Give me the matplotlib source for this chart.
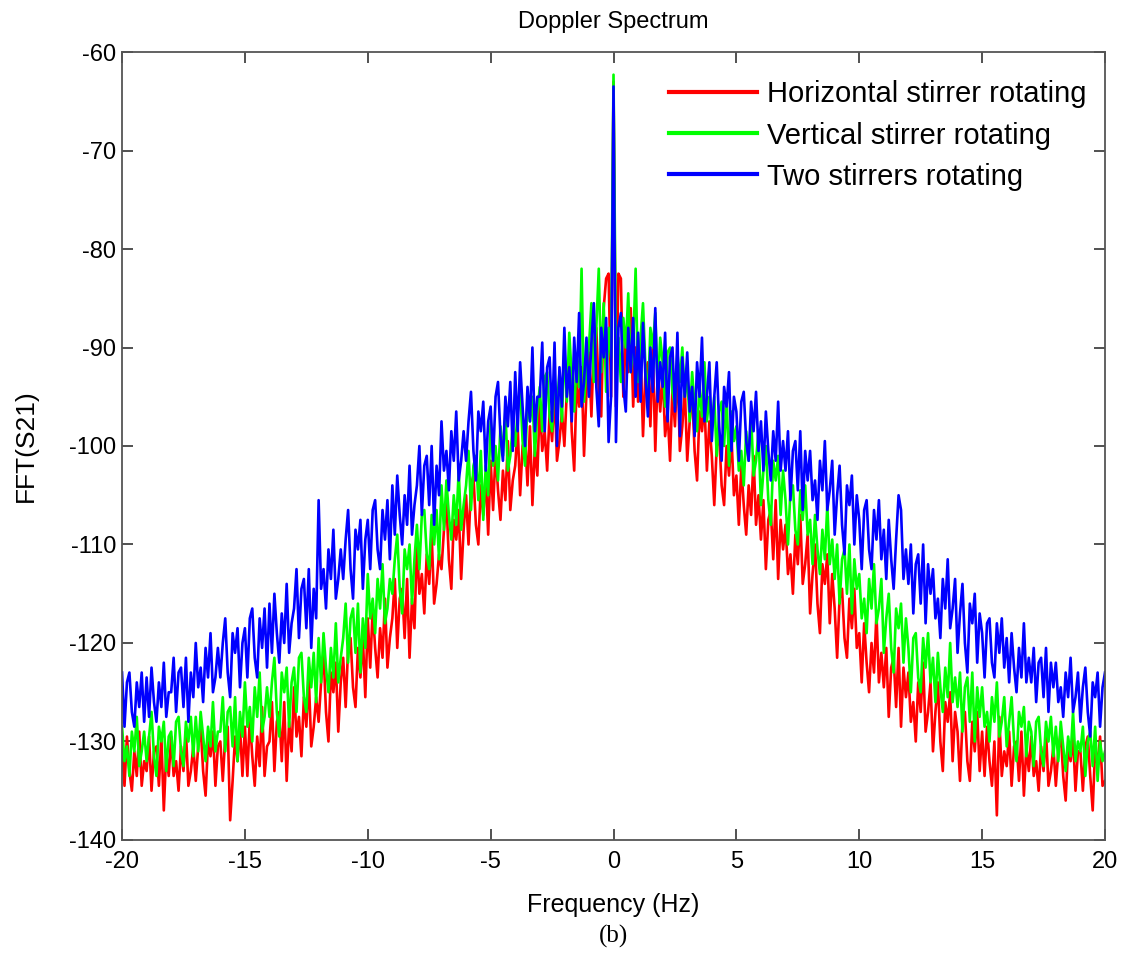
import numpy as np
import matplotlib
matplotlib.use('Agg')
import matplotlib.pyplot as plt

# Doppler spectrum on a 0.1 Hz grid (dB), one row per Hz
freq = np.linspace(-20, 20, 401)

horizontal = [
    -130.5, -134.5, -129.5, -133, -135, -131, -133.5, -129, -134.5, -132,
    -133, -129.5, -135, -131, -130.5, -134.5, -129.5, -137, -131, -133.5,
    -129.5, -133.5, -132, -135, -130.5, -133, -129, -134.5, -133, -130.5,
    -134, -130.5, -128.5, -133, -135.5, -130, -131.5, -129, -134.5, -130.5,
    -130, -134, -129.5, -128.5, -138, -134, -129.5, -132, -128.5, -133.5,
    -128.5, -133.5, -127.5, -131.5, -134.5, -129.5, -132.5, -126.5, -133.5, -130.5,
    -130, -126, -133, -128, -127, -132, -126, -134, -128, -131,
    -124.5, -129.5, -127.5, -131.5, -125.5, -128.5, -123.5, -130.5, -128.5, -125.5,
    -128, -124, -121, -127, -130, -123, -125, -122, -129, -124,
    -121.5, -126.5, -120.5, -119.5, -124.5, -126.5, -120.5, -123.5, -119.5, -125.5,
    -117.5, -122.5, -116.5, -120.5, -123.5, -118.5, -121.5, -115.5, -122.5, -119.5,
    -117.5, -113.5, -120.5, -115.5, -114.5, -119.5, -113.5, -121.5, -115.5, -118.5,
    -110, -115, -113, -117, -111, -114, -109, -116, -114, -111,
    -112.5, -108.5, -105.5, -111.5, -114.5, -107.5, -109.5, -106.5, -113.5, -108.5,
    -105, -110, -104, -103, -108, -110, -104, -107, -103, -109,
    -101.5, -106.5, -100.5, -104.5, -107.5, -102.5, -105.5, -99.5, -106.5, -103.5,
    -102, -98, -105, -100, -99, -104, -98, -106, -100, -103,
    -95.5, -100.5, -98.5, -102.5, -96.5, -99.5, -94.5, -101.5, -99.5, -96.5,
    -100, -94.5, -91, -98.5, -102.5, -93.5, -96, -92, -101, -94.5,
    -90.5, -97, -89.5, -88, -94.5, -97, -86, -83, -82.5, -95,
    -63, -96, -82.5, -83, -95, -89, -92.5, -86, -96, -90,
    -95.5, -90, -99, -92.5, -91.5, -98, -90, -100.5, -92.5, -96.5,
    -92.5, -99, -96.5, -101.5, -94, -98, -91.5, -100.5, -98, -94,
    -101.5, -97.5, -94.5, -100.5, -103.5, -96.5, -98.5, -95.5, -102.5, -97.5,
    -101, -106, -100, -99, -104, -106, -100, -103, -99, -105,
    -103, -108, -102, -106, -109, -104, -107, -101, -108, -105,
    -109.5, -105.5, -112.5, -107.5, -106.5, -111.5, -105.5, -113.5, -107.5, -110.5,
    -108, -113, -111, -115, -109, -112, -107, -114, -112, -109,
    -117, -113, -110, -116, -119, -112, -114, -111, -118, -113,
    -116.5, -121.5, -115.5, -114.5, -119.5, -121.5, -115.5, -118.5, -114.5, -120.5,
    -119, -124, -118, -122, -125, -120, -123, -117, -124, -121,
    -124.5, -120.5, -127.5, -122.5, -121.5, -126.5, -120.5, -128.5, -122.5, -125.5,
    -123, -128, -126, -130, -124, -127, -122, -129, -127, -124,
    -131, -127, -124, -130, -133, -126, -128, -125, -132, -127,
    -129, -134, -128, -127, -132, -134, -128, -131, -127, -133,
    -129, -133.5, -128.5, -132, -134.5, -130, -137.5, -127.5, -133.5, -131,
    -132.5, -129, -134.5, -130.5, -130, -134, -129, -135.5, -130.5, -133,
    -129.5, -133.5, -132, -135, -130.5, -133, -129, -134.5, -133, -130.5,
    -134.5, -131, -129, -133.5, -136, -130.5, -132, -129.5, -135, -131,
    -131, -135, -130.5, -129.5, -133.5, -137, -130.5, -132.5, -129.5, -134.5,
    -134,
]

vertical = [
    -128.5, -132, -130.5, -133.5, -129, -131, -127.5, -132.5, -131, -129,
    -132, -129.5, -127, -131.5, -133.5, -128.5, -130, -128, -133, -129.5,
    -129, -132.5, -128, -127.5, -131, -132.5, -128, -130, -127.5, -131.5,
    -127.5, -131, -127, -129.5, -132, -128.5, -130.5, -126, -131, -129,
    -129, -125.5, -131, -127, -126.5, -130.5, -125.5, -132, -127, -129.5,
    -124, -128.5, -126.5, -130, -124.5, -127.5, -123, -129, -127.5, -124.5,
    -127.5, -124, -121.5, -127, -129.5, -123, -125, -122.5, -128.5, -124,
    -122.5, -127, -121.5, -121, -125.5, -127, -121.5, -124.5, -121, -126,
    -119.5, -124, -119, -122.5, -125, -120.5, -123.5, -118, -124, -121.5,
    -119.5, -116, -122, -117.5, -116.5, -121, -116, -123, -117.5, -120.5,
    -113, -117.5, -115.5, -119, -113.5, -116.5, -112, -118, -116.5, -113.5,
    -115, -111.5, -109, -114.5, -117, -110.5, -112.5, -110, -116, -111.5,
    -108, -112.5, -107, -106.5, -111, -112.5, -107, -110, -106.5, -111.5,
    -104, -108.5, -103.5, -107, -109.5, -105, -108, -102.5, -108.5, -106,
    -104, -100.5, -106.5, -102, -101, -105.5, -100.5, -107.5, -102, -105,
    -97.5, -102, -100, -103.5, -98, -101, -96.5, -102.5, -101, -98,
    -100, -96.5, -94, -99.5, -102, -95.5, -97.5, -95, -101, -96.5,
    -94, -98.5, -93, -92.5, -97, -98.5, -93, -96, -92.5, -97.5,
    -90, -95.5, -88.5, -93, -96.5, -91, -94, -82, -95.5, -92,
    -90, -85.5, -93.5, -88, -82, -92.5, -85.5, -94.5, -88, -91,
    -62.3, -91, -89, -93.5, -87, -90, -84.5, -92.5, -90, -82,
    -93.5, -89, -85.5, -92, -95.5, -88, -90, -86.5, -94.5, -89,
    -91.5, -96, -90.5, -90, -94.5, -96, -90.5, -93.5, -90, -95,
    -93, -97.5, -92.5, -96, -98.5, -94, -97, -91.5, -97.5, -95,
    -98.5, -95, -101, -96.5, -95.5, -100, -95, -102, -96.5, -99.5,
    -98, -102.5, -100.5, -104, -98.5, -101.5, -97, -103, -101.5, -98.5,
    -106, -102.5, -100, -105.5, -108, -101.5, -103.5, -101, -107, -102.5,
    -105.5, -110, -104.5, -104, -108.5, -110, -104.5, -107.5, -104, -109,
    -107.5, -112, -107, -110.5, -113, -108.5, -111.5, -106, -112, -109.5,
    -113.5, -110, -116, -111.5, -110.5, -115, -110, -117, -111.5, -114.5,
    -113, -117.5, -115.5, -119, -113.5, -116.5, -112, -118, -116.5, -113.5,
    -121, -117.5, -115, -120.5, -123, -116.5, -118.5, -116, -122, -117.5,
    -120.5, -125, -119.5, -119, -123.5, -125, -119.5, -122.5, -119, -124,
    -121.5, -126, -121, -124.5, -127, -122.5, -125.5, -120, -126, -123.5,
    -126.5, -123, -129, -124.5, -123.5, -128, -123, -130, -124.5, -127.5,
    -124.5, -128.5, -127, -130, -125.5, -128, -124, -129.5, -128, -125.5,
    -130.5, -128, -125.5, -130, -132, -127, -128.5, -126.5, -131.5, -128,
    -129, -132.5, -128, -127.5, -131, -132.5, -128, -130, -127.5, -131.5,
    -128.5, -132, -128, -130.5, -133, -129.5, -131.5, -127, -132, -130,
    -131, -128.5, -133.5, -130, -129, -132.5, -128.5, -134, -130, -132,
    -131,
]

two_stirrers = [
    -123, -128.5, -124, -123, -127, -128.5, -124, -126.5, -123, -128,
    -123.5, -127.5, -122.5, -126, -128, -124, -126.5, -122, -127.5, -125,
    -125, -121.5, -127, -123, -122.5, -126.5, -121.5, -128, -123, -125.5,
    -120, -124.5, -122.5, -126, -120.5, -123.5, -119, -125, -123.5, -120.5,
    -123.5, -120, -117.5, -123, -125.5, -119, -121, -118.5, -124.5, -120,
    -118.5, -123.5, -117.5, -116.5, -121.5, -123.5, -117.5, -120.5, -116.5, -122.5,
    -116, -121, -115, -119, -122, -117, -120, -114, -121, -118,
    -116.5, -112.5, -119.5, -114.5, -113.5, -118.5, -112.5, -120.5, -114.5, -117.5,
    -105.5, -114.5, -112.5, -116.5, -110.5, -113.5, -108.5, -115.5, -113.5, -110.5,
    -113.5, -109.5, -106.5, -112.5, -115.5, -108.5, -110.5, -107.5, -114.5, -109.5,
    -107.5, -112.5, -106.5, -105.5, -110.5, -112.5, -106.5, -109.5, -105.5, -111.5,
    -104, -109, -103, -107, -110, -105, -108, -102, -109, -106,
    -104, -100, -107, -102, -101, -106, -100, -108, -102, -105,
    -97.5, -102.5, -100.5, -104.5, -98.5, -101.5, -96.5, -103.5, -101.5, -98.5,
    -101.5, -97.5, -94.5, -100.5, -103.5, -96.5, -98.5, -95.5, -102.5, -97.5,
    -96, -101.5, -95, -93.5, -99, -101.5, -95, -98, -93.5, -100.5,
    -92.5, -98.5, -91.5, -96, -100, -94, -97.5, -90, -98.5, -95,
    -95, -89.5, -98.5, -92, -91, -97.5, -89.5, -100, -92, -96,
    -88, -95, -92, -97.5, -89, -93.5, -86.5, -96, -93.5, -89,
    -95, -89.5, -85.5, -94, -98, -88, -91, -87, -99.6, -95,
    -63.5, -99.6, -88, -86.5, -94, -96.5, -88, -92.5, -87, -95,
    -88.5, -95.5, -87.5, -93, -97, -90, -94.5, -86, -95.5, -91.5,
    -94, -88.5, -97.5, -91, -90, -96.5, -88.5, -99, -91, -95,
    -90.5, -96.5, -94, -99, -91.5, -95, -89, -97.5, -95, -91.5,
    -99.5, -95, -91.5, -98, -101.5, -94, -96, -92.5, -100.5, -95,
    -96.5, -101.5, -95.5, -94.5, -99.5, -101.5, -95.5, -98.5, -94.5, -100.5,
    -97.5, -102.5, -96.5, -100.5, -103.5, -98.5, -101.5, -95.5, -102.5, -99.5,
    -102.5, -98.5, -105.5, -100.5, -99.5, -104.5, -98.5, -106.5, -100.5, -103.5,
    -100.5, -105.5, -103.5, -107.5, -101.5, -104.5, -99.5, -106.5, -104.5, -101.5,
    -109, -105, -102, -108, -111, -104, -106, -103, -110, -105,
    -107.5, -112.5, -106.5, -105.5, -110.5, -112.5, -106.5, -109.5, -105.5, -111.5,
    -108.5, -113.5, -107.5, -111.5, -114.5, -109.5, -105, -106.5, -113.5, -110.5,
    -114, -110, -117, -112, -111, -116, -110, -118, -112, -115,
    -112.5, -117.5, -115.5, -119.5, -113.5, -116.5, -111.5, -118.5, -116.5, -113.5,
    -121, -117, -114, -120, -123, -116, -118, -115, -122, -117,
    -119, -123.5, -118, -117.5, -122, -123.5, -118, -121, -117.5, -122.5,
    -119.5, -124, -119, -122.5, -125, -120.5, -123.5, -118, -124, -121.5,
    -124, -120.5, -126, -122, -121.5, -125.5, -120.5, -127, -122, -124.5,
    -122, -126, -124.5, -127.5, -123, -125.5, -121.5, -127, -125.5, -123,
    -128, -124.5, -122.5, -127, -129.5, -124, -125.5, -123, -128.5, -124.5,
    -123,
]

labels = ['Horizontal stirrer rotating', 'Vertical stirrer rotating', 'Two stirrers rotating']
xticks = [-20, -15, -10, -5, 0, 5, 10, 15, 20]
yticks = [-140, -130, -120, -110, -100, -90, -80, -70, -60]

plt.rcParams['axes.unicode_minus'] = False
narrow = ['Liberation Sans Narrow', 'Liberation Sans']

fig = plt.figure(figsize=(11.31, 9.58), dpi=100)
ax = fig.add_axes([0.1079, 0.1232, 0.8691, 0.8225])

ax.plot(freq, horizontal, color='#ff0000', lw=1.9, label=labels[0])
ax.plot(freq, vertical, color='#00ff00', lw=1.9, label=labels[1])
ax.plot(freq, two_stirrers, color='#0000ff', lw=1.9, label=labels[2])

ax.set_xlim(-20, 20)
ax.set_ylim(-140, -60)
ax.set_xticks(xticks)
ax.set_yticks(yticks)
ax.tick_params(direction='in', length=8, width=1.2, top=True, right=True,
               labelsize=17, colors='#333333', labelcolor='black')
ax.tick_params(axis='x', pad=8)
ax.tick_params(axis='y', pad=4)
for lab in ax.get_xticklabels() + ax.get_yticklabels():
    lab.set_family(narrow)
for sp in ax.spines.values():
    sp.set_color('#555555')
    sp.set_linewidth(1.3)

ax.set_title('Doppler Spectrum', fontsize=17, family=narrow, pad=17)
ax.set_xlabel('Frequency (Hz)', fontsize=18, family=narrow, labelpad=14)
ax.set_ylabel('FFT(S21)', fontsize=19, family='Liberation Sans', labelpad=23)

leg = ax.legend(loc='upper right', bbox_to_anchor=(0.981, 0.964), frameon=False,
                prop={'family': 'Liberation Sans', 'size': 21},
                handlelength=3.0, handletextpad=0.35, labelspacing=0.45,
                borderpad=0, borderaxespad=0)
for line in leg.get_lines():
    line.set_linewidth(3)

fig.text(0.5425, 0.023, '(b)', ha='center', va='center', fontsize=18,
         family='Liberation Serif')

fig.savefig('out.png', dpi=100)
plt.close()
